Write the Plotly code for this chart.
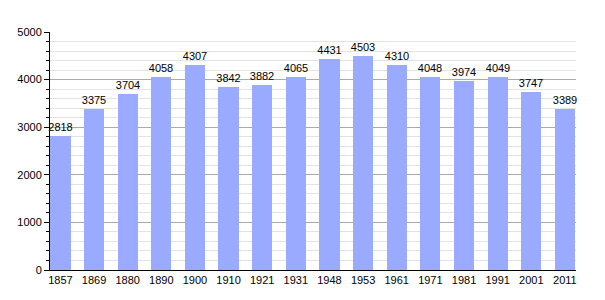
import plotly.graph_objects as go

years = ["1857", "1869", "1880", "1890", "1900", "1910", "1921", "1931",
         "1948", "1953", "1961", "1971", "1981", "1991", "2001", "2011"]
population = [2818, 3375, 3704, 4058, 4307, 3842, 3882, 4065,
              4431, 4503, 4310, 4048, 3974, 4049, 3747, 3389]

fig = go.Figure(go.Bar(
    x=list(range(len(years))),
    y=population,
    width=0.6,
    marker=dict(color="#99aaff", line=dict(width=0)),
    text=[str(v) for v in population],
    textposition="outside",
    constraintext="none",
    textfont=dict(family="Liberation Sans, Arial, sans-serif", size=11, color="#000"),
    cliponaxis=False,
))

fig.update_layout(
    width=605, height=300,
    margin=dict(l=50, r=29, t=32, b=30),
    plot_bgcolor="white", paper_bgcolor="white",
    showlegend=False,
    font=dict(family="Liberation Sans, Arial, sans-serif", size=11, color="#000"),
    bargap=0,
)
fig.update_xaxes(
    tickmode="array", tickvals=list(range(len(years))), ticktext=years,
    range=[-0.31, 15.33],
    showline=True, linecolor="#000", linewidth=1,
    showgrid=False, ticks="", zeroline=False,
    tickfont=dict(size=11),
)
fig.update_yaxes(
    range=[0, 5000], dtick=1000,
    showline=True, linecolor="#000", linewidth=1,
    showgrid=True, gridcolor="#aaaaaa", gridwidth=1,
    ticks="outside", ticklen=5, tickcolor="#000",
    zeroline=False,
    minor=dict(dtick=200, showgrid=True, gridcolor="#e3e3e3", gridwidth=1,
               ticks="outside", ticklen=3, tickcolor="#000"),
    tickfont=dict(size=11),
)

fig.write_html("out.html")
